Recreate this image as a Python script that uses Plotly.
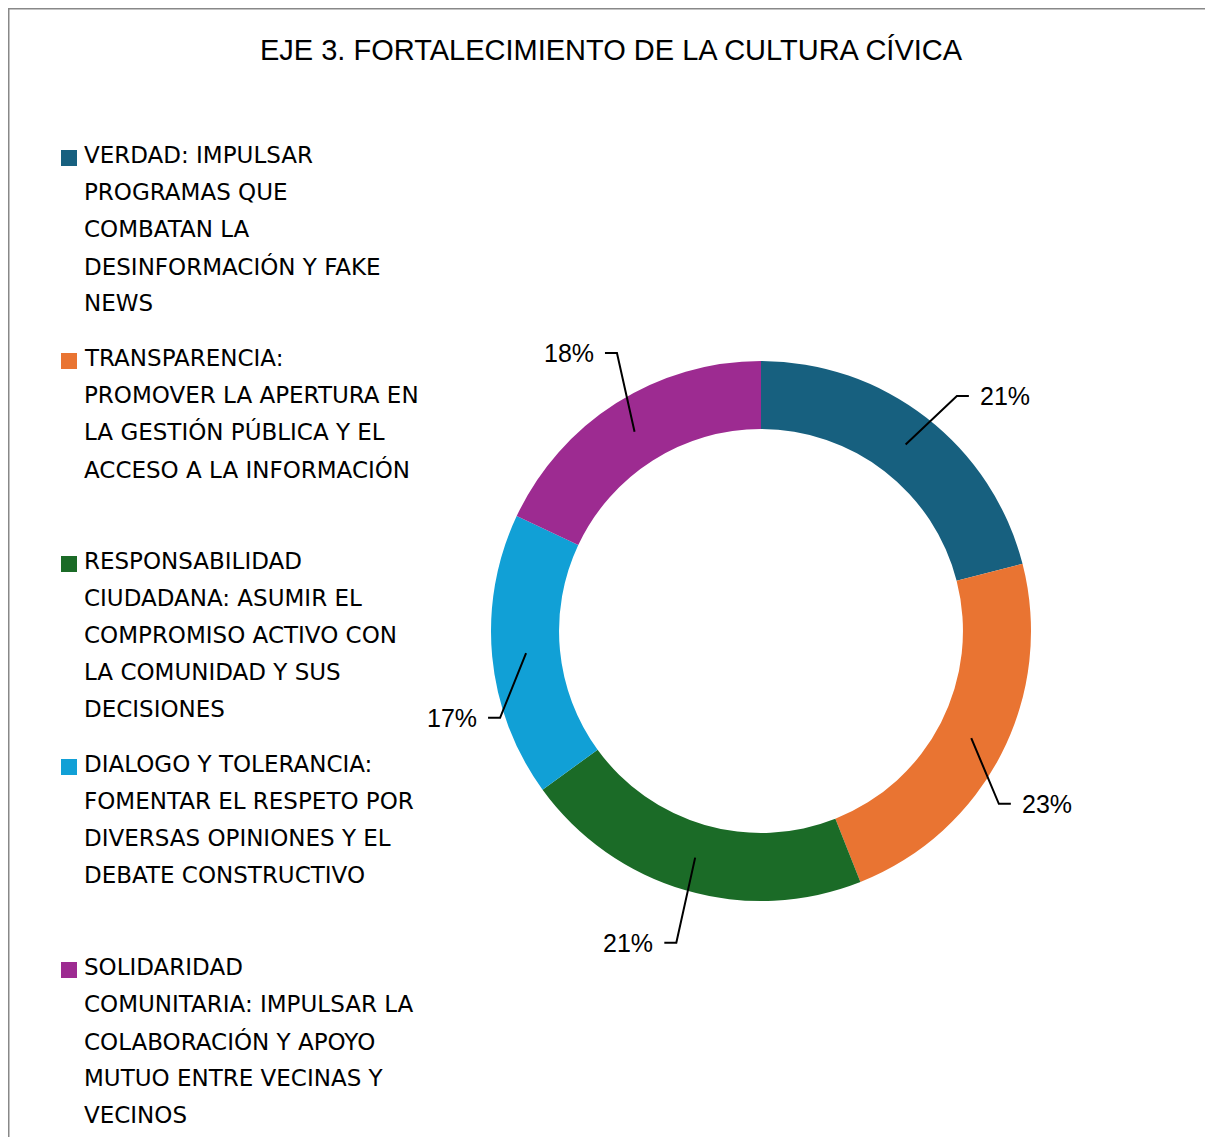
import math
import plotly.graph_objects as go

# ---- data ----
categories = [
    "VERDAD: IMPULSAR<br>PROGRAMAS QUE<br>COMBATAN LA<br>DESINFORMACIÓN Y FAKE<br>NEWS",
    "TRANSPARENCIA:<br>PROMOVER LA APERTURA EN<br>LA GESTIÓN PÚBLICA Y EL<br>ACCESO A LA INFORMACIÓN",
    "RESPONSABILIDAD<br>CIUDADANA: ASUMIR EL<br>COMPROMISO ACTIVO CON<br>LA COMUNIDAD Y SUS<br>DECISIONES",
    "DIALOGO Y TOLERANCIA:<br>FOMENTAR EL RESPETO POR<br>DIVERSAS OPINIONES Y EL<br>DEBATE CONSTRUCTIVO",
    "SOLIDARIDAD<br>COMUNITARIA: IMPULSAR LA<br>COLABORACIÓN Y APOYO<br>MUTUO ENTRE VECINAS Y<br>VECINOS",
]
values = [21, 23, 21, 17, 18]
title_text = "EJE 3. FORTALECIMIENTO DE LA CULTURA CÍVICA"

# ---- style ----
colors = ["#17607F", "#E97432", "#1B6B27", "#11A0D6", "#9D2B91"]
W, H = 1213, 1137
OFF = 8  # page offset of the plot inside the browser window
CX, CY, R_OUT = 761, 631, 270
HOLE = 0.748
R_MID = R_OUT * (1 + HOLE) / 2
# label elbow placement (angle shift in degrees, radius in px) per slice
elbow_shift = [2, 9, -1, -13, 5]
elbow_radius = [306, 294, 323, 275, 313]
TICK = 12
GAP = 9
LABEL_FONT = dict(family="Liberation Sans, Arial, sans-serif", size=25, color="#000000")
LEGEND_FONT = dict(family="DejaVu Sans, Verdana, sans-serif", size=23, color="#000000")


def px(x, y):
    return (x - OFF) / W, 1 - (y - OFF) / H


fig = go.Figure()
x0d, y1d = px(CX - R_OUT, CY - R_OUT)
x1d, y0d = px(CX + R_OUT, CY + R_OUT)
fig.add_trace(go.Pie(
    labels=[c.replace("<br>", " ") for c in categories],
    values=values,
    sort=False,
    direction="clockwise",
    rotation=0,
    hole=HOLE,
    marker=dict(colors=colors, line=dict(width=0)),
    textinfo="none",
    hoverinfo="label+percent",
    showlegend=False,
    domain=dict(x=[x0d, x1d], y=[y0d, y1d]),
))

shapes = []
annotations = []
total = sum(values)
cum = 0
for i, v in enumerate(values):
    mid = (cum + v / 2) / total * 360
    cum += v
    a = math.radians(mid)
    p0 = (CX + R_MID * math.sin(a), CY - R_MID * math.cos(a))
    b = math.radians(mid + elbow_shift[i])
    p1 = (CX + elbow_radius[i] * math.sin(b), CY - elbow_radius[i] * math.cos(b))
    right = p1[0] >= CX
    p2 = (p1[0] + (TICK if right else -TICK), p1[1])
    pts = [px(*p0), px(*p1), px(*p2)]
    path = "M {} {} L {} {} L {} {}".format(pts[0][0], pts[0][1], pts[1][0], pts[1][1], pts[2][0], pts[2][1])
    shapes.append(dict(type="path", xref="paper", yref="paper", path=path,
                       line=dict(color="#000000", width=2)))
    tx = p2[0] + (GAP if right else -GAP)
    ax, ay = px(tx, p2[1])
    annotations.append(dict(
        x=ax, y=ay, xref="paper", yref="paper",
        text=f"{round(v / total * 100)}%", showarrow=False,
        xanchor="left" if right else "right", yanchor="middle",
        font=LABEL_FONT,
    ))

# legend (manual, uniform spacing, one annotation per text line)
LEG_X, LEG_Y0, LEG_STEP, LINE_H, SQ = 82, 155, 203, 37, 16
for i, (c, col) in enumerate(zip(categories, colors)):
    y_top = LEG_Y0 + i * LEG_STEP
    for j, line in enumerate(c.split("<br>")):
        lx, ly = px(LEG_X, y_top + j * LINE_H)
        annotations.append(dict(
            x=lx, y=ly, xref="paper", yref="paper",
            text=line, showarrow=False, xanchor="left", yanchor="middle", align="left",
            font=LEGEND_FONT,
        ))
    sx0, sy0 = px(61, y_top + 3 + SQ / 2)
    sx1, sy1 = px(61 + SQ, y_top + 3 - SQ / 2)
    shapes.append(dict(type="rect", xref="paper", yref="paper",
                       x0=sx0, x1=sx1, y0=sy0, y1=sy1,
                       fillcolor=col, line=dict(width=0)))

# title
tx_, ty_ = px(611, 50)
annotations.append(dict(
    x=tx_, y=ty_, xref="paper", yref="paper",
    text=title_text, showarrow=False, xanchor="center", yanchor="middle",
    font=dict(family="Liberation Sans, Arial, sans-serif", size=29, color="#000000"),
))

# chart frame (top and left visible)
fx, fy = px(OFF + 0.5, OFF + 0.5)
shapes.append(dict(type="path", xref="paper", yref="paper",
                   path=f"M {fx} 0 L {fx} {fy} L 1 {fy}",
                   line=dict(color="#888888", width=2)))

fig.update_layout(
    width=W, height=H,
    margin=dict(l=0, r=0, t=0, b=0),
    paper_bgcolor="#FFFFFF",
    plot_bgcolor="#FFFFFF",
    shapes=shapes,
    annotations=annotations,
)

fig.write_html("out.html")
